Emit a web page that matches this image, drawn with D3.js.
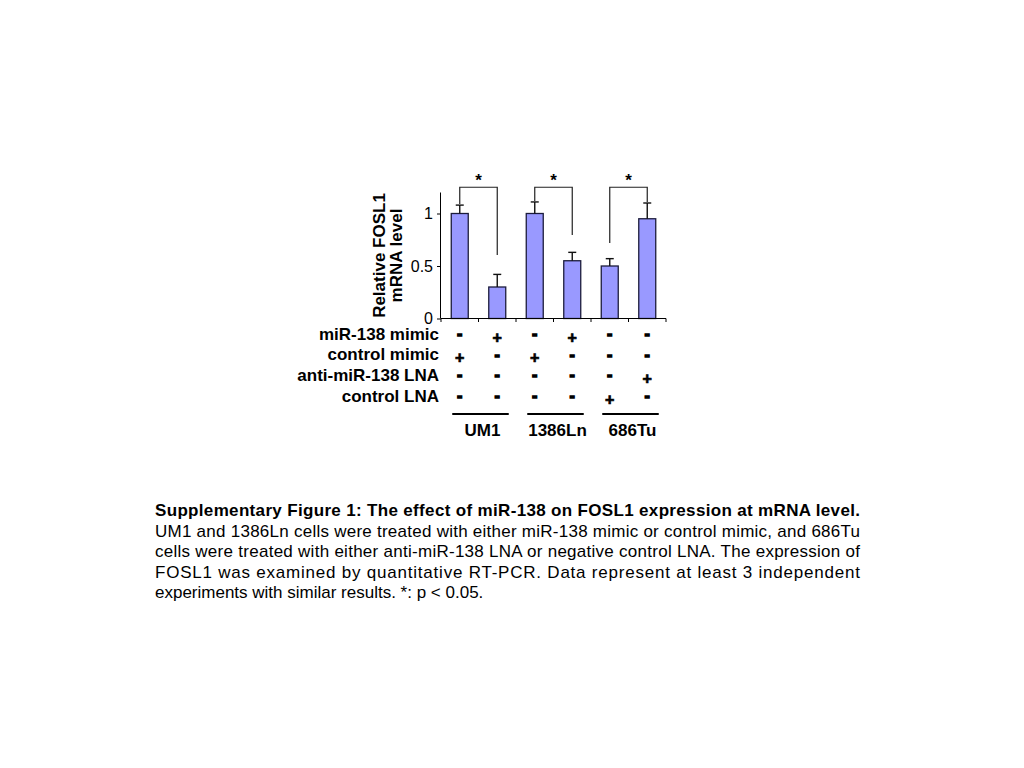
<!DOCTYPE html>
<html>
<head>
<meta charset="utf-8">
<script src="https://cdn.jsdelivr.net/npm/d3@7"></script>
<style>
  html, body { margin: 0; padding: 0; background: #fff; }
  svg { display: block; }
  text { font-family: "Liberation Sans", Arial, Helvetica, sans-serif; fill: #000; }
</style>
</head>
<body>
<svg id="chart" width="1024" height="768"></svg>
<script>
// ---- data ----
const bars = ["UM1 ctrl", "UM1 mimic", "1386Ln ctrl", "1386Ln mimic", "686Tu ctrl LNA", "686Tu anti LNA"];
const values = [1.0, 0.30, 1.0, 0.55, 0.50, 0.95];
const errors = [0.08, 0.12, 0.11, 0.08, 0.07, 0.15];
const yTicks = [0, 0.5, 1];
const yTickLabels = ["0", "0.5", "1"];
const yTitle = ["Relative FOSL1", "mRNA level"];

const rowLabels = ["miR-138 mimic", "control mimic", "anti-miR-138 LNA", "control LNA"];
const signs = [
  ["-", "+", "-", "+", "-", "-"],
  ["+", "-", "+", "-", "-", "-"],
  ["-", "-", "-", "-", "-", "+"],
  ["-", "-", "-", "-", "+", "-"]
];
const groups = ["UM1", "1386Ln", "686Tu"];
const groupMembers = [[0, 1], [2, 3], [4, 5]];

// significance brackets: bar indices, lower ends (data units), top (data units)
const bracketPairs = [[0, 1], [2, 3], [4, 5]];
const bracketEnds = [[1.09, 0.605], [1.12, 0.795], [0.72, 1.11]];
const bracketTop = 1.25;
const bracketMark = "*";

const captionBold = "Supplementary Figure 1: The effect of miR-138 on FOSL1 expression at mRNA level.";
const captionLines = [
  "UM1 and 1386Ln cells were treated with either miR-138 mimic or control mimic, and 686Tu",
  "cells were treated with either anti-miR-138 LNA or negative control LNA. The expression of",
  "FOSL1 was examined by quantitative RT-PCR. Data represent at least 3 independent",
  "experiments with similar results. *: p < 0.05."
];

// ---- drawing ----
const svg = d3.select("#chart");

const x = d3.scaleBand().domain(d3.range(bars.length)).range([441, 666])
  .paddingInner(0.547).paddingOuter(0.2735);
const y = d3.scaleLinear().domain([0, 1.2]).range([318.5, 192.5]);
const bw = x.bandwidth();
const cx = i => x(i) + bw / 2;

// bars
svg.append("g").selectAll("rect").data(values).join("rect")
  .attr("x", (d, i) => x(i))
  .attr("y", d => y(d))
  .attr("width", bw)
  .attr("height", d => y(0) - y(d))
  .attr("fill", "#9999ff")
  .attr("stroke", "#1c1c3c")
  .attr("stroke-width", 1.3);

// error bars (upper only)
const eg = svg.append("g").attr("stroke", "#111").attr("stroke-width", 1.4);
values.forEach((v, i) => {
  eg.append("line").attr("x1", cx(i)).attr("x2", cx(i)).attr("y1", y(v)).attr("y2", y(v + errors[i]));
  eg.append("line").attr("x1", cx(i) - 4).attr("x2", cx(i) + 4).attr("y1", y(v + errors[i])).attr("y2", y(v + errors[i]));
});

// y axis
const yAxis = d3.axisLeft(y).tickValues(yTicks).tickSize(4).tickPadding(4)
  .tickFormat((d, i) => yTickLabels[i]);
const ga = svg.append("g").attr("transform", "translate(441,0)").call(yAxis);
ga.select(".domain").attr("d", `M-0.5,${y(1.2)}V${y(0)}`).attr("stroke", "#000");
ga.selectAll("text").style("font-size", "16px").style("font-family", "'Liberation Sans', Arial, sans-serif");

// x axis with ticks at category boundaries
const step = x.step();
const boundaries = d3.range(bars.length + 1).map(k => 441 + k * step);
svg.append("line").attr("x1", 441).attr("x2", 666).attr("y1", y(0)).attr("y2", y(0))
  .attr("stroke", "#000").attr("stroke-width", 1);
svg.append("g").selectAll("line").data(boundaries).join("line")
  .attr("x1", d => d).attr("x2", d => d).attr("y1", y(0)).attr("y2", y(0) + 3.5)
  .attr("stroke", "#000").attr("stroke-width", 1);

// y title (rotated, two lines)
const yt = svg.append("text")
  .attr("transform", `translate(385,${(y(0) + y(1.2)) / 2}) rotate(-90)`)
  .attr("text-anchor", "middle")
  .style("font-size", "17px").style("font-weight", "bold");
yTitle.forEach((t, i) => yt.append("tspan").attr("x", 0).attr("y", i * 17).text(t));

// significance brackets
const bg = svg.append("g").attr("fill", "none").attr("stroke", "#222").attr("stroke-width", 1.2);
bracketPairs.forEach((p, k) => {
  const [a, b] = p;
  const [ea, eb] = bracketEnds[k];
  bg.append("path").attr("d",
    `M${cx(a)},${y(ea)}V${y(bracketTop)}H${cx(b)}V${y(eb)}`);
  svg.append("text").attr("x", (cx(a) + cx(b)) / 2).attr("y", y(bracketTop) - 1.5)
    .attr("text-anchor", "middle").style("font-size", "17px").style("font-weight", "bold")
    .text(bracketMark);
});

// treatment table
const rowY = d3.scaleLinear().domain([0, 3]).range([334, 396]);
svg.append("g").selectAll("text").data(rowLabels).join("text")
  .attr("x", 439).attr("y", (d, i) => rowY(i) + 5.5)
  .attr("text-anchor", "end")
  .style("font-size", "17px").style("font-weight", "bold")
  .text(d => d);

signs.forEach((row, r) => {
  svg.append("g").selectAll("text").data(row).join("text")
    .attr("x", (d, i) => cx(i))
    .attr("y", d => rowY(r) + (d === "+" ? 8.5 : 5))
    .attr("text-anchor", "middle")
    .style("font-size", "16px")
    .style("font-weight", "bold")
    .attr("stroke", "#000")
    .attr("stroke-width", d => d === "+" ? 0.7 : 1.3)
    .text(d => d);
});

// group lines and labels
groupMembers.forEach((m, g) => {
  const x0 = x(m[0]) + 1, x1 = x(m[m.length - 1]) + bw + 3;
  svg.append("line").attr("x1", x0).attr("x2", x1).attr("y1", 414).attr("y2", 414)
    .attr("stroke", "#000").attr("stroke-width", 2);
  svg.append("text").attr("x", (x0 + x1) / 2 + 2).attr("y", 436)
    .attr("text-anchor", "middle").style("font-size", "17px").style("font-weight", "bold")
    .text(groups[g]);
});

// caption
const capX = 155, capW = 705, capY0 = 516, capDy = 20.5;
svg.append("text").attr("x", capX).attr("y", capY0)
  .attr("textLength", capW).attr("lengthAdjust", "spacing")
  .style("font-size", "17px").style("font-weight", "bold")
  .text(captionBold);
captionLines.forEach((t, i) => {
  const tx = svg.append("text").attr("x", capX).attr("y", capY0 + (i + 1) * capDy)
    .style("font-size", "17px").text(t);
  if (i < captionLines.length - 1) tx.attr("textLength", capW).attr("lengthAdjust", "spacing");
});
</script>
</body>
</html>
